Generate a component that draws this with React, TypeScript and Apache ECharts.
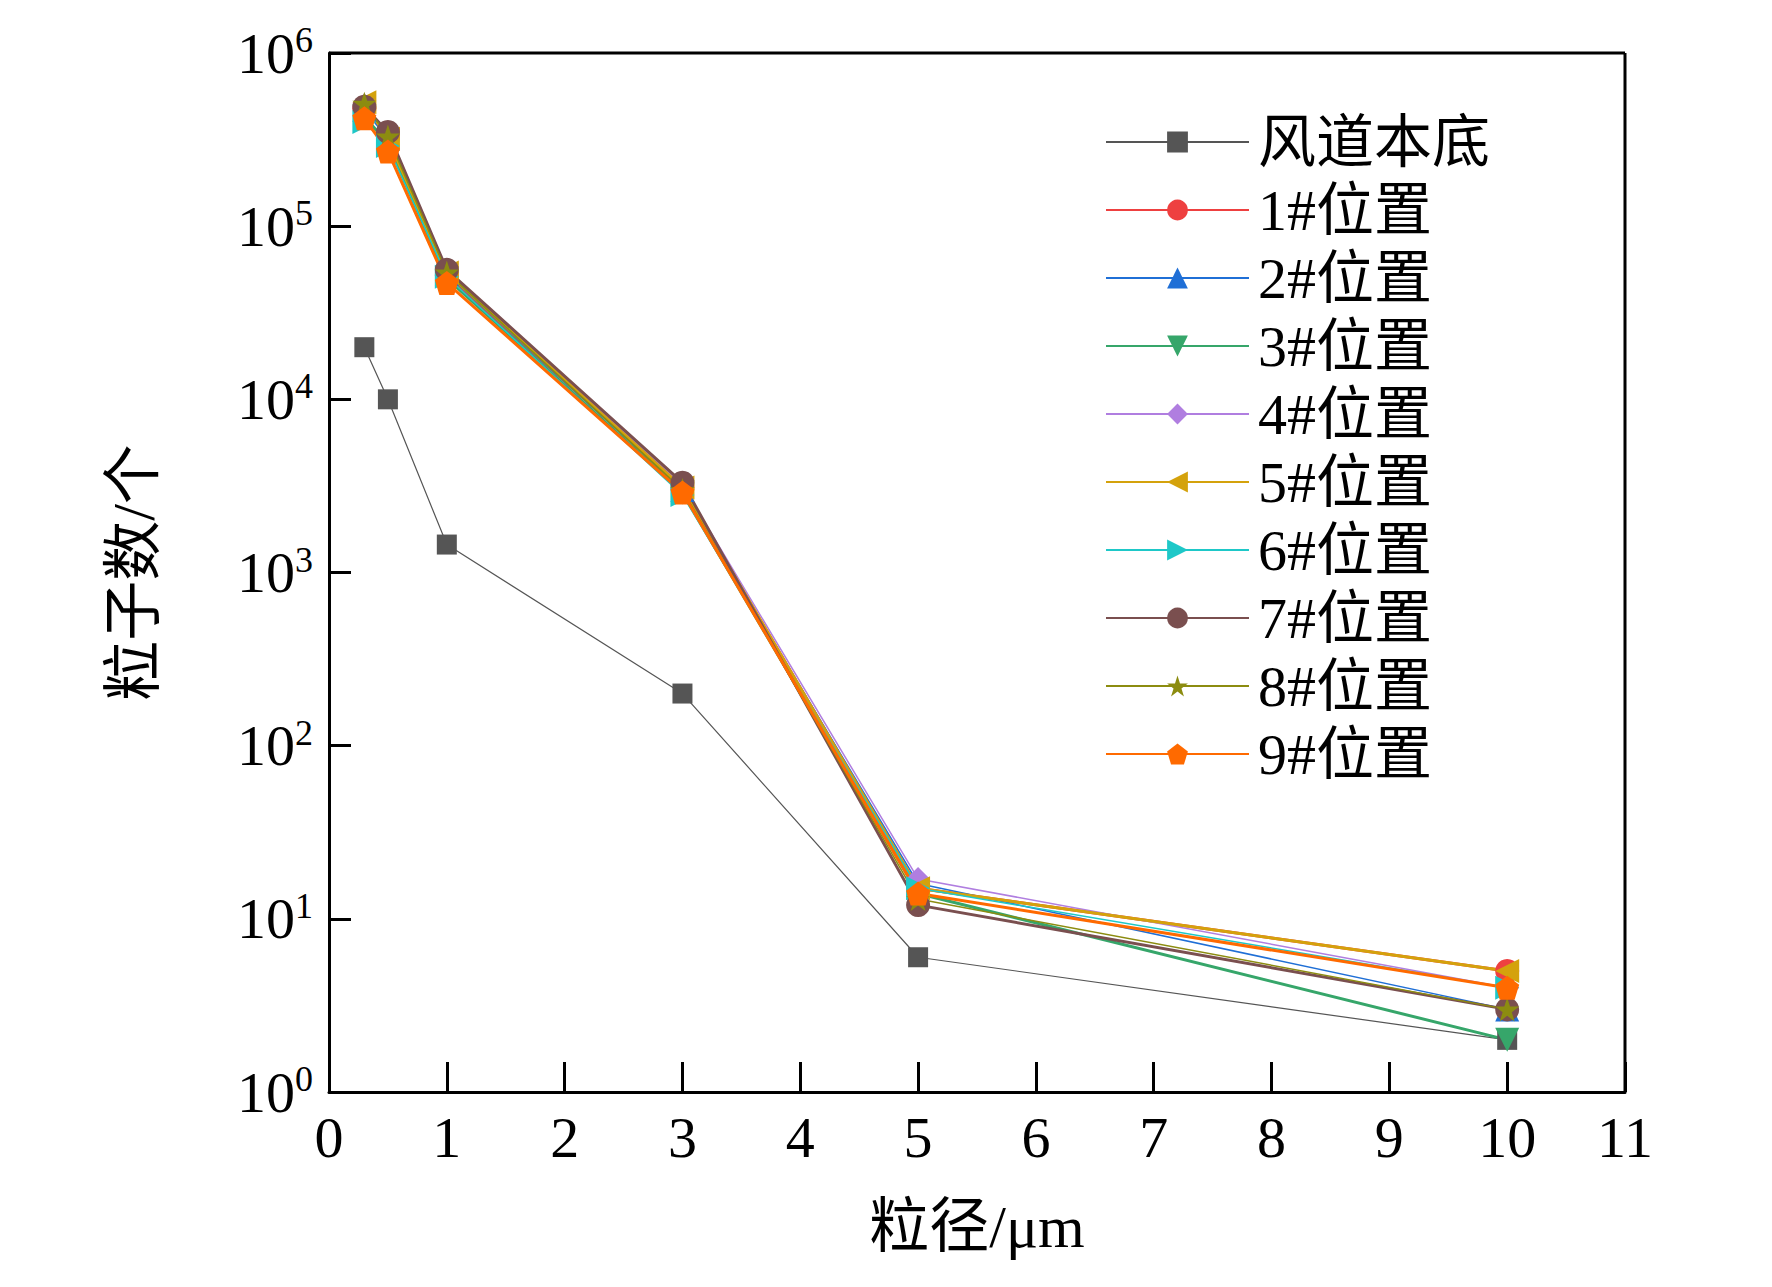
import { useEffect, useRef } from "react";
import * as echarts from "echarts";

const sizes = [0.3, 0.5, 1, 3, 5, 10];
const seriesNames = ["风道本底", "1#位置", "2#位置", "3#位置", "4#位置", "5#位置", "6#位置", "7#位置", "8#位置", "9#位置"];
const colors = ["#555555", "#ee4040", "#1f6fd6", "#36a66a", "#b07ee0", "#d4a20c", "#1ec8c8", "#7a4f4f", "#8c8c10", "#ff6a00"];
const symbols = ["rect", "circle", "triangle", "path://M0,0 L10,0 L5,9 Z", "diamond", "path://M9,0 L9,10 L0,5 Z", "path://M0,0 L0,10 L9,5 Z", "circle", "path://M5,0 L6.2,3.6 L10,3.6 L6.9,5.9 L8.1,9.5 L5,7.3 L1.9,9.5 L3.1,5.9 L0,3.6 L3.8,3.6 Z", "path://M5,0 L10,3.8 L8.1,10 L1.9,10 L0,3.8 Z"];
const counts = [
  [20000, 10000, 1450, 200, 6, 2],
  [480000, 330000, 52000, 3100, 15, 5],
  [470000, 320000, 53000, 3000, 16, 3],
  [430000, 300000, 50000, 2900, 14, 2],
  [500000, 340000, 55000, 3200, 17, 4],
  [520000, 320000, 54000, 3100, 15, 5],
  [400000, 290000, 51000, 2800, 15, 4],
  [490000, 350000, 56000, 3300, 12, 3],
  [510000, 330000, 54000, 3000, 13, 3],
  [420000, 270000, 47000, 2900, 14, 4],
];

export default function App() {
  const ref = useRef<HTMLDivElement>(null);
  useEffect(() => {
    document.body.style.margin = "0";
    const chart = echarts.init(ref.current!, null, { renderer: "svg" });
    const font = "'Liberation Serif', 'Noto Sans CJK SC', serif";
    const left = 329, right = 147, top = 53, bottom = 195;
    chart.setOption({
      animation: false,
      textStyle: { fontFamily: font },
      grid: { left, right, top, bottom },
      legend: {
        orient: "vertical",
        left: 1100,
        top: 108,
        itemWidth: 143,
        itemHeight: 26,
        itemGap: 10,
        textStyle: { fontSize: 58, color: "#000", fontFamily: font, padding: [0, 0, 0, 4] },
        data: seriesNames,
      },
      xAxis: {
        type: "value",
        min: 0,
        max: 11,
        interval: 1,
        name: "粒径/μm",
        nameLocation: "middle",
        nameGap: 105,
        nameTextStyle: { fontSize: 60, color: "#000" },
        axisLine: { lineStyle: { color: "#000", width: 3 } },
        axisTick: { inside: true, length: 30, lineStyle: { color: "#000", width: 3 } },
        axisLabel: { fontSize: 58, color: "#000", margin: 16 },
        splitLine: { show: false },
      },
      yAxis: {
        type: "log",
        logBase: 10,
        min: 1,
        max: 1000000,
        name: "粒子数/个",
        nameLocation: "middle",
        nameGap: 165,
        nameTextStyle: { fontSize: 60, color: "#000" },
        axisLine: { lineStyle: { color: "#000", width: 3 } },
        axisTick: { inside: true, length: 22, lineStyle: { color: "#000", width: 3 } },
        axisLabel: {
          fontSize: 58,
          color: "#000",
          margin: 16,
          formatter: (v: number) => `10{s|${Math.round(Math.log10(v))}}`,
          rich: { s: { fontSize: 36, verticalAlign: "top", padding: [0, 0, 26, 0], fontFamily: font } },
        },
        splitLine: { show: false },
      },
      graphic: [
        { type: "line", shape: { x1: left, y1: top, x2: 1772 - right, y2: top }, style: { stroke: "#000", lineWidth: 3 } },
        { type: "line", shape: { x1: 1772 - right, y1: top, x2: 1772 - right, y2: 1287 - bottom }, style: { stroke: "#000", lineWidth: 3 } },
      ],
      series: seriesNames.map((name, i) => ({
        name,
        type: "line",
        data: sizes.map((x, j) => [x, counts[i][j]]),
        symbol: symbols[i],
        symbolSize: i === 0 ? 20 : 24,
        lineStyle: { color: colors[i], width: i === 0 ? 1.2 : i % 2 === 1 ? 3 : 1.5 },
        itemStyle: { color: colors[i] },
      })),
    });
    return () => chart.dispose();
  }, []);
  return <div ref={ref} style={{ width: 1772, height: 1287 }} />;
}
